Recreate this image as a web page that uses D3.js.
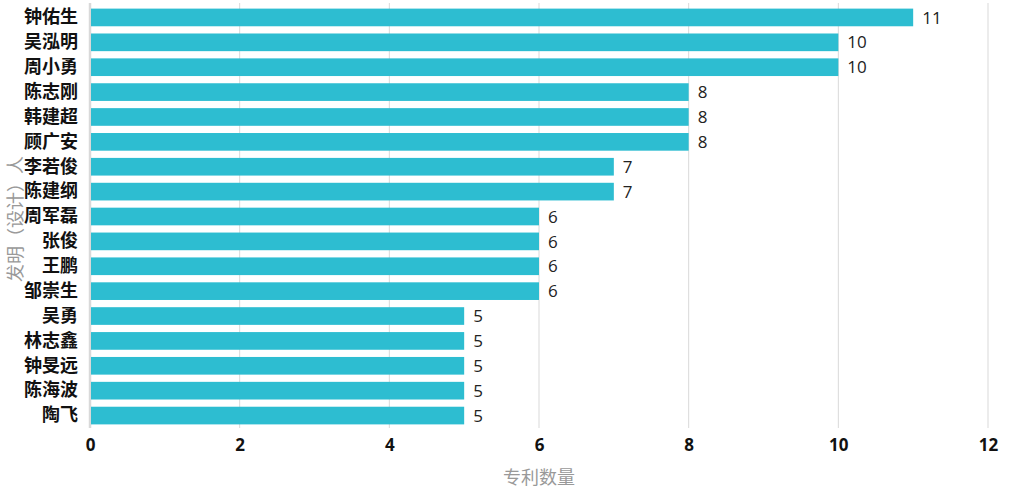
<!DOCTYPE html>
<html>
<head>
<meta charset="utf-8">
<script src="https://cdn.jsdelivr.net/npm/d3@7"></script>
<style>
  body { margin: 0; background: #fff; }
  svg { font-family: "Open Sans", "Noto Sans CJK SC", sans-serif; }
</style>
</head>
<body>
<script>
const names = ["钟佑生", "吴泓明", "周小勇", "陈志刚", "韩建超", "顾广安", "李若俊", "陈建纲",
    "周军磊", "张俊", "王鹏", "邹崇生", "吴勇", "林志鑫", "钟旻远", "陈海波", "陶飞"];
const counts = [11, 10, 10, 8, 8, 8, 7, 7, 6, 6, 6, 6, 5, 5, 5, 5, 5];
const xTicks = [0, 2, 4, 6, 8, 10, 12];

const w = 1010;
const h = 501;
const margin = { top: 5, right: 22, bottom: 73, left: 90 };
const axisY = 428;

const svg = d3.select("body")
    .append("svg")
    .attr("width", w)
    .attr("height", h);

const xScale = d3.scaleLinear()
    .domain([0, 12])
    .range([margin.left, w - margin.right]);

const yScale = d3.scaleBand()
    .domain(names)
    .range([margin.top, h - margin.bottom])
    .paddingInner(0.29)
    .paddingOuter(0.145);

// Grid lines
svg.append("g")
    .selectAll("line")
    .data(xTicks)
    .enter()
    .append("line")
    .attr("x1", d => xScale(d))
    .attr("x2", d => xScale(d))
    .attr("y1", 3)
    .attr("y2", axisY)
    .attr("stroke", "#d9d9d9")
    .attr("stroke-width", d => d === 0 ? 2.5 : 1);

// Bars
svg.append("g")
    .selectAll("rect")
    .data(names)
    .enter()
    .append("rect")
    .attr("x", xScale(0) + 1)
    .attr("y", d => yScale(d))
    .attr("width", (d, i) => xScale(counts[i]) - xScale(0) - 1)
    .attr("height", yScale.bandwidth())
    .attr("fill", "#2dbdd1");

// Value labels
svg.append("g")
    .selectAll("text")
    .data(names)
    .enter()
    .append("text")
    .attr("x", (d, i) => xScale(counts[i]) + 9)
    .attr("y", d => yScale(d) + yScale.bandwidth() / 2)
    .attr("dy", "0.36em")
    .attr("font-size", 17)
    .attr("fill", "#222")
    .text((d, i) => counts[i]);

// Y axis labels
const yAxis = d3.axisLeft(yScale).tickSize(0).tickPadding(12);
svg.append("g")
    .attr("transform", `translate(${margin.left}, 0)`)
    .call(yAxis)
    .call(g => g.select(".domain").remove())
    .selectAll("text")
    .attr("font-family", "'Noto Sans CJK SC', sans-serif")
    .attr("font-size", 18)
    .attr("font-weight", "bold")
    .attr("fill", "#111");

// X axis labels
const xAxis = d3.axisBottom(xScale).tickValues(xTicks).tickSize(0).tickPadding(11);
svg.append("g")
    .attr("transform", `translate(0, ${axisY})`)
    .call(xAxis)
    .call(g => g.select(".domain").remove())
    .selectAll("text")
    .attr("font-family", "'Open Sans', sans-serif")
    .attr("font-size", 17)
    .attr("font-weight", "bold")
    .attr("fill", "#111");

// Axis titles
svg.append("text")
    .attr("x", (margin.left + w - margin.right) / 2)
    .attr("y", 484)
    .attr("text-anchor", "middle")
    .attr("font-family", "'Noto Sans CJK SC', sans-serif")
    .attr("font-size", 18)
    .attr("fill", "#999")
    .text("专利数量");

svg.append("text")
    .attr("transform", "translate(22, 219) rotate(-90)")
    .attr("text-anchor", "middle")
    .attr("font-family", "'Noto Sans CJK SC', sans-serif")
    .attr("font-size", 18)
    .attr("fill", "#999")
    .text("发明（设计）人");
</script>
</body>
</html>
